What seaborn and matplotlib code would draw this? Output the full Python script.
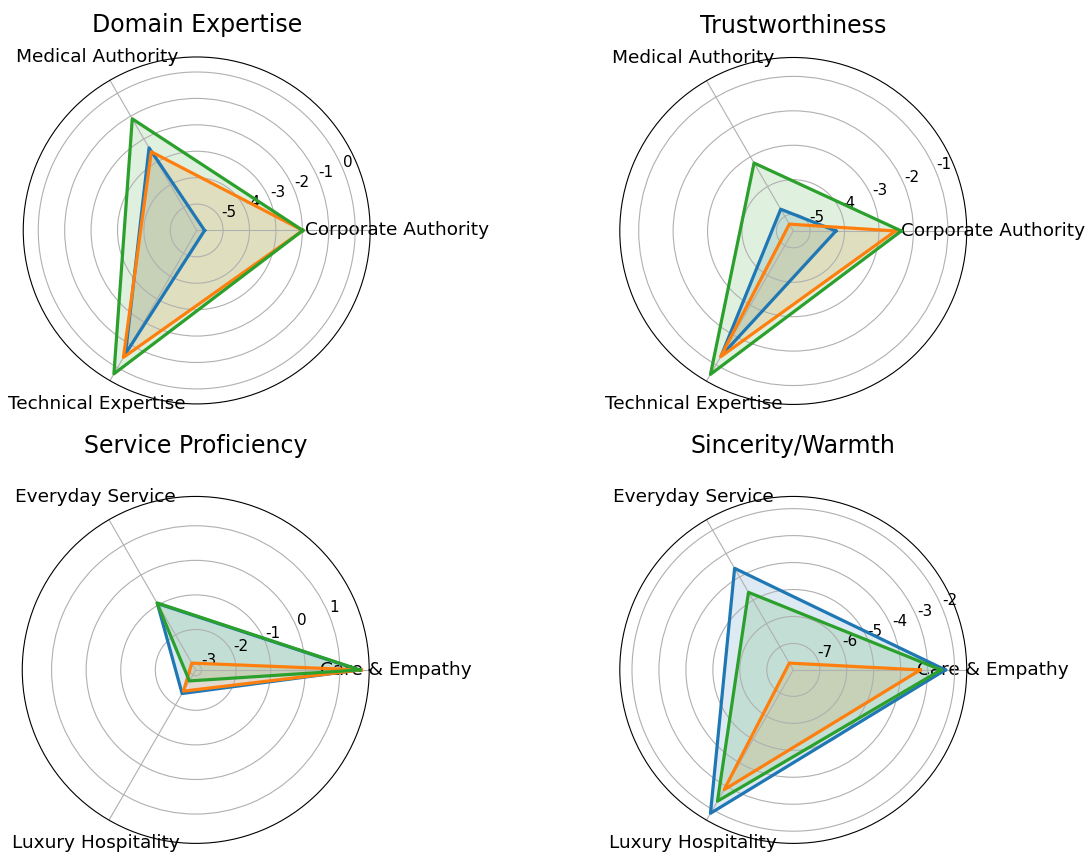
import numpy as np
import pandas as pd
import matplotlib
matplotlib.use("Agg")
import matplotlib.pyplot as plt
import seaborn as sns

plt.rcParams["axes.unicode_minus"] = False

# Panel titles and the three axes of each radar
titles = ["Domain Expertise", "Trustworthiness", "Service Proficiency", "Sincerity/Warmth"]
expertise_axes = ["Corporate Authority", "Medical Authority", "Technical Expertise"]
service_axes = ["Care & Empathy", "Everyday Service", "Luxury Hospitality"]

# Scores per panel, one list per series (order follows the axis labels)
domain_a = [-5.70, -2.39, -0.60]
domain_b = [-1.98, -2.56, -0.45]
domain_c = [-1.98, -1.12, 0.27]

trust_a = [-4.25, -4.76, -1.30]
trust_b = [-2.52, -5.26, -1.27]
trust_c = [-2.35, -3.21, -0.68]

service_a = [1.55, -0.95, -2.38]
service_b = [1.62, -2.94, -2.46]
service_c = [1.58, -0.93, -2.80]

warmth_a = [-2.34, -3.63, -1.84]
warmth_b = [-3.27, -7.69, -2.85]
warmth_c = [-2.50, -4.66, -2.36]

panels = [
    (titles[0], expertise_axes, [domain_a, domain_b, domain_c]),
    (titles[1], expertise_axes, [trust_a, trust_b, trust_c]),
    (titles[2], service_axes, [service_a, service_b, service_c]),
    (titles[3], service_axes, [warmth_a, warmth_b, warmth_c]),
]

colors = sns.color_palette("tab10")[:3]

fig = plt.figure(figsize=(10.91, 8.57), dpi=100)
w, h = 0.318, 0.405
rects = [
    [0.0213, 0.5286, w, h],
    [0.5681, 0.5280, w, h],
    [0.0204, 0.0158, w, h],
    [0.5681, 0.0158, w, h],
]
title_y = [1.048, 1.048, 1.102, 1.102]

angles = np.linspace(0, 2 * np.pi, 3, endpoint=False)
closed_angles = np.append(angles, 2 * np.pi)

for (title, labels, series), rect, ty in zip(panels, rects, title_y):
    ax = fig.add_axes(rect, projection="polar")
    for vals, c in zip(series, colors):
        closed_vals = np.append(vals, vals[0])
        df = pd.DataFrame({"theta": closed_angles, "score": closed_vals})
        sns.lineplot(data=df, x="theta", y="score", sort=False, estimator=None,
                     color=c, linewidth=2.3, ax=ax, legend=False)
        ax.fill(closed_angles, closed_vals, color=c, alpha=0.15)
    ax.set_xticks(angles)
    ax.set_xticklabels(labels, fontsize=13.3)
    ax.tick_params(axis="x", pad=8.5)
    ax.tick_params(axis="y", labelsize=11)
    ax.set_xlabel("")
    ax.set_ylabel("")
    ax.set_title(title, fontsize=17, y=ty)

fig.savefig("out.png", dpi=100)
